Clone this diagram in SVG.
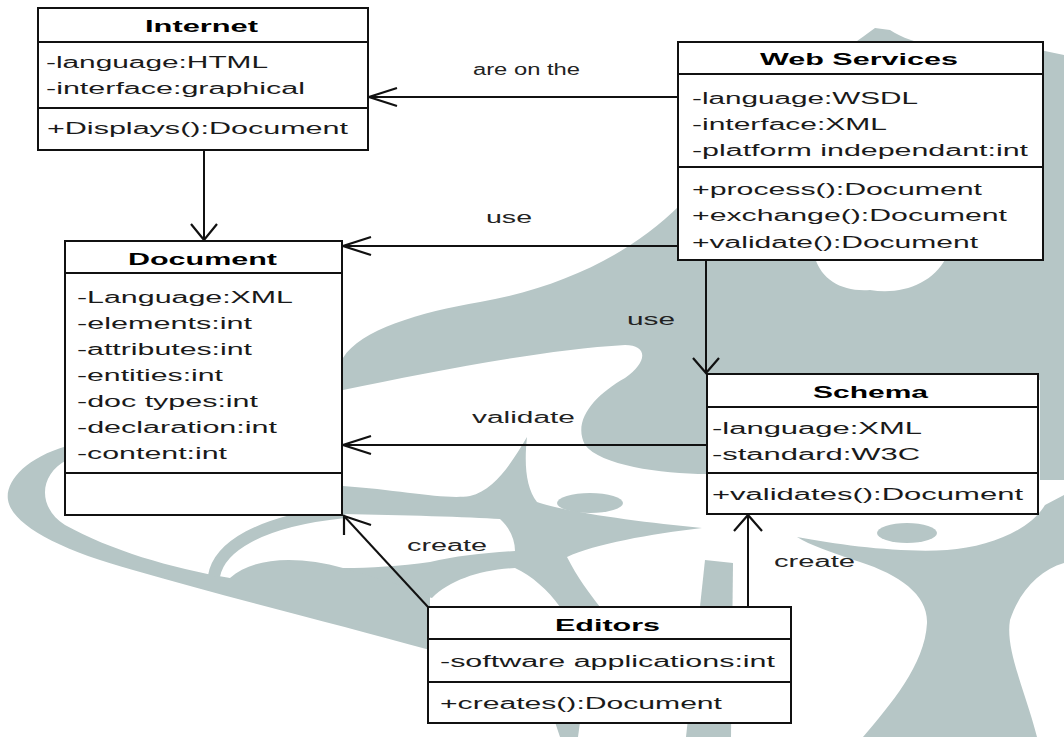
<svg xmlns="http://www.w3.org/2000/svg" width="1064" height="737" viewBox="0 0 1064 737">
<style>
  text { font-family: "Liberation Sans", Arial, sans-serif; fill: #1a1a1a; }
  .t { font-size: 17px; font-weight: bold; fill: #000; }
  .a { font-size: 16px; }
  .lbl { font-size: 16px; fill: #222; }
  .box { fill: #fff; stroke: #111; stroke-width: 2; }
  .div { stroke: #111; stroke-width: 2; }
  .ln { fill: none; stroke: #111; stroke-width: 2; }
  .ah { fill: none; stroke: #111; stroke-width: 2.2; stroke-linejoin: miter; }
  .wm { fill: #b6c6c6; }
  .wms { fill: none; stroke: #b6c6c6; }
</style>
<rect width="1064" height="737" fill="#fff"/>
<g id="background">
  <path class="wm" d="M 343,358 C 360,330 420,312 480,302 C 560,288 630,255 680,205 L 680,150 C 760,120 830,60 875,28 L 890,30 C 920,50 980,55 1040,50 L 1064,55 L 1064,480 L 1040,480 L 1040,380 L 707,380 L 707,474 C 660,474 600,465 585,445 C 572,420 595,395 625,378 C 648,362 648,345 625,345 C 540,350 430,372 343,390 Z"/>
  <path fill="#fff" d="M 815,258 C 822,280 842,292 870,290 C 902,295 932,284 946,258 Z"/>
  <path class="wm" d="M 797,537 C 840,545 900,553 947,550 C 990,547 1030,530 1045,505 L 1064,495 L 1064,563 C 1040,570 1020,590 1010,620 C 1005,650 1025,690 1037,737 L 863,737 C 890,705 925,665 927,623 C 928,595 900,575 860,562 C 830,552 810,545 797,537 Z"/>
  <ellipse class="wm" cx="907" cy="533" rx="30" ry="10"/>
  <ellipse class="wm" cx="590" cy="503" rx="33" ry="10"/>
  <polygon class="wm" points="705,560 733,563 731,737 686,737"/>
  <polygon class="wm" points="555,722 580,722 578,737 560,737"/>
  <path class="wm" d="M 343,486 C 400,490 445,500 470,496 C 495,490 512,462 527,437 C 524,465 526,488 537,502 C 565,512 640,522 702,528 C 650,534 595,544 567,557 C 577,577 590,594 600,607 L 560,607 C 548,590 532,576 515,568 C 480,570 450,580 432,598 L 343,575 Z"/>
  <path fill="#fff" d="M 343,514 C 400,515 470,517 500,519 C 510,528 515,540 515,551 C 485,553 455,556 430,562 C 400,566 370,568 343,568 Z"/>
  <path class="wm" d="M 67,446 C 25,458 5,482 8,500 C 12,525 60,550 133,570 C 230,598 340,625 430,650 L 430,594 L 343,568 C 300,556 255,556 230,578 C 170,568 110,550 65,525 C 38,508 38,475 67,460 Z"/>
  <path class="wms" stroke-width="12" d="M 214,576 C 219,548 257,521 345,512"/>
</g>
<g id="connectors">
  <line class="ln" x1="678" y1="97" x2="369" y2="97"/>
  <polyline class="ah" points="397,88 369,97 397,106"/>
  <text class="lbl" x="473" y="75" textLength="107" lengthAdjust="spacingAndGlyphs">are on the</text>

  <line class="ln" x1="204" y1="150" x2="204" y2="240"/>
  <polyline class="ah" points="191,224 204,240 217,224"/>

  <line class="ln" x1="678" y1="246" x2="343" y2="246"/>
  <polyline class="ah" points="371,237 343,246 371,255"/>
  <text class="lbl" x="486" y="223" textLength="46" lengthAdjust="spacingAndGlyphs">use</text>

  <line class="ln" x1="706" y1="260" x2="706" y2="373"/>
  <polyline class="ah" points="693,358 706,373 719,358"/>
  <text class="lbl" x="627" y="325" textLength="48" lengthAdjust="spacingAndGlyphs">use</text>

  <line class="ln" x1="707" y1="445" x2="343" y2="445"/>
  <polyline class="ah" points="371,436 343,445 371,454"/>
  <text class="lbl" x="472" y="423" textLength="103" lengthAdjust="spacingAndGlyphs">validate</text>

  <line class="ln" x1="428" y1="607" x2="344" y2="516"/>
  <polyline class="ah" points="344,535 344,516 371,525"/>
  <text class="lbl" x="407" y="551" textLength="80" lengthAdjust="spacingAndGlyphs">create</text>

  <line class="ln" x1="748" y1="607" x2="748" y2="515"/>
  <polyline class="ah" points="734,531 748,515 762,531"/>
  <text class="lbl" x="774" y="567" textLength="81" lengthAdjust="spacingAndGlyphs">create</text>
</g>
<g id="node-internet">
  <rect class="box" x="38" y="8" width="330" height="142"/>
  <line class="div" x1="38" y1="42" x2="368" y2="42"/>
  <line class="div" x1="38" y1="108" x2="368" y2="108"/>
  <text class="t" x="145" y="32" textLength="113" lengthAdjust="spacingAndGlyphs">Internet</text>
  <text class="a" x="46" y="68" textLength="222" lengthAdjust="spacingAndGlyphs">-language:HTML</text>
  <text class="a" x="46" y="94" textLength="259" lengthAdjust="spacingAndGlyphs">-interface:graphical</text>
  <text class="a" x="47" y="134" textLength="301" lengthAdjust="spacingAndGlyphs">+Displays():Document</text>
</g>
<g id="node-webservices">
  <rect class="box" x="678" y="42" width="365" height="218"/>
  <line class="div" x1="678" y1="74" x2="1043" y2="74"/>
  <line class="div" x1="678" y1="167" x2="1043" y2="167"/>
  <text class="t" x="760" y="65" textLength="198" lengthAdjust="spacingAndGlyphs">Web Services</text>
  <text class="a" x="692" y="104" textLength="226" lengthAdjust="spacingAndGlyphs">-language:WSDL</text>
  <text class="a" x="692" y="130" textLength="195" lengthAdjust="spacingAndGlyphs">-interface:XML</text>
  <text class="a" x="692" y="156" textLength="336" lengthAdjust="spacingAndGlyphs">-platform independant:int</text>
  <text class="a" x="692" y="195" textLength="290" lengthAdjust="spacingAndGlyphs">+process():Document</text>
  <text class="a" x="692" y="221" textLength="315" lengthAdjust="spacingAndGlyphs">+exchange():Document</text>
  <text class="a" x="692" y="248" textLength="286" lengthAdjust="spacingAndGlyphs">+validate():Document</text>
</g>
<g id="node-document">
  <rect class="box" x="65" y="241" width="277" height="274"/>
  <line class="div" x1="65" y1="273" x2="342" y2="273"/>
  <line class="div" x1="65" y1="473" x2="342" y2="473"/>
  <text class="t" x="128" y="265" textLength="149" lengthAdjust="spacingAndGlyphs">Document</text>
  <text class="a" x="77" y="303" textLength="216" lengthAdjust="spacingAndGlyphs">-Language:XML</text>
  <text class="a" x="77" y="329" textLength="175" lengthAdjust="spacingAndGlyphs">-elements:int</text>
  <text class="a" x="77" y="355" textLength="175" lengthAdjust="spacingAndGlyphs">-attributes:int</text>
  <text class="a" x="77" y="381" textLength="146" lengthAdjust="spacingAndGlyphs">-entities:int</text>
  <text class="a" x="77" y="407" textLength="181" lengthAdjust="spacingAndGlyphs">-doc types:int</text>
  <text class="a" x="77" y="433" textLength="200" lengthAdjust="spacingAndGlyphs">-declaration:int</text>
  <text class="a" x="77" y="459" textLength="150" lengthAdjust="spacingAndGlyphs">-content:int</text>
</g>
<g id="node-schema">
  <rect class="box" x="707" y="374" width="331" height="140"/>
  <line class="div" x1="707" y1="407" x2="1038" y2="407"/>
  <line class="div" x1="707" y1="473" x2="1038" y2="473"/>
  <text class="t" x="813" y="398" textLength="115" lengthAdjust="spacingAndGlyphs">Schema</text>
  <text class="a" x="712" y="434" textLength="210" lengthAdjust="spacingAndGlyphs">-language:XML</text>
  <text class="a" x="712" y="460" textLength="208" lengthAdjust="spacingAndGlyphs">-standard:W3C</text>
  <text class="a" x="712" y="500" textLength="311" lengthAdjust="spacingAndGlyphs">+validates():Document</text>
</g>
<g id="node-editors">
  <rect class="box" x="428" y="607" width="363" height="116"/>
  <line class="div" x1="428" y1="639" x2="791" y2="639"/>
  <line class="div" x1="428" y1="682" x2="791" y2="682"/>
  <text class="t" x="555" y="631" textLength="105" lengthAdjust="spacingAndGlyphs">Editors</text>
  <text class="a" x="440" y="667" textLength="335" lengthAdjust="spacingAndGlyphs">-software applications:int</text>
  <text class="a" x="440" y="709" textLength="282" lengthAdjust="spacingAndGlyphs">+creates():Document</text>
</g>
</svg>
